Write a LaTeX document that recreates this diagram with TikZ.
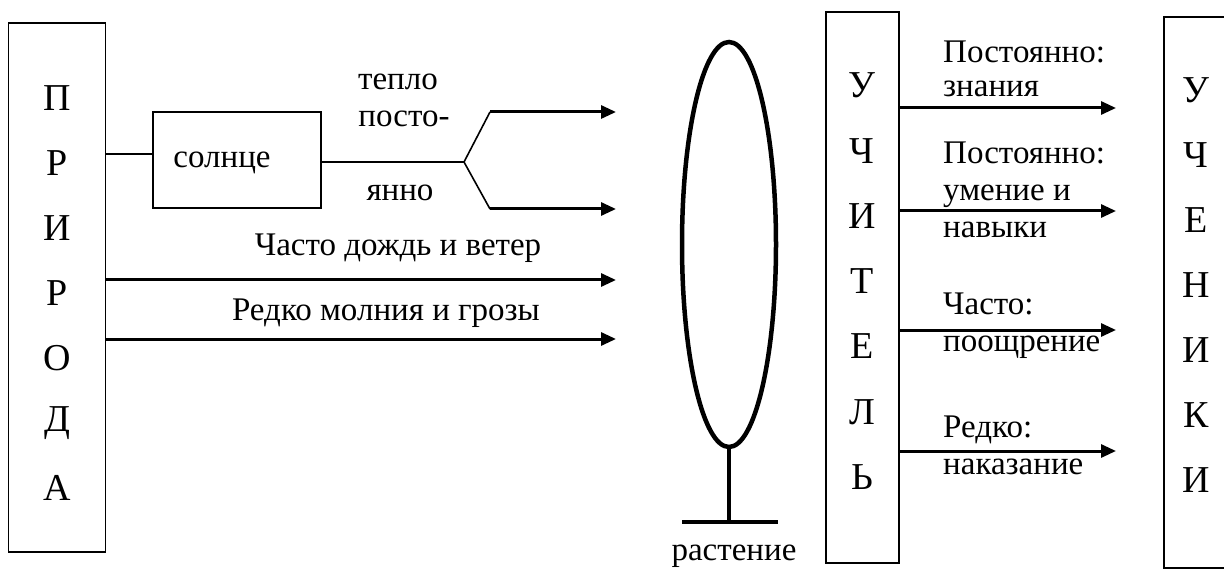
\documentclass[tikz,border=0pt]{standalone}
\usepackage{fontspec}
\setmainfont{Liberation Serif}
\usepackage{tikz}
\usetikzlibrary{calc,positioning,arrows,arrows.meta}

\begin{document}
\begin{tikzpicture}[x=1pt,y=-1pt,font=\fontsize{33}{36}\selectfont,
  box/.style={draw,line width=1.6pt,inner sep=0pt},
  lbl/.style={inner sep=0pt},
  letter/.style={inner sep=0pt,font=\fontsize{38}{40}\selectfont},
  note/.style={inner sep=0pt,anchor=north west,align=left},
  arr/.style={line width=3pt,-{Triangle[length=15pt,width=13pt]}},
  thin/.style={line width=1.6pt},
  plant/.style={line width=4.5pt}]
\useasboundingbox (0,0) rectangle (1224,572);
%\draw[help lines] (0,0) grid[step=50] (1224,572);
% nature
\node[box,minimum width=97pt,minimum height=529pt] (priroda) at (57,287.5) {};
\foreach \l [count=\i] in {П,Р,И,Р,О,Д,А}{\node[letter] (p\i) at (57,33+65*\i) {\l};}
\node[box,minimum width=168pt,minimum height=96pt] (sun) at (237,160) {};
\node[lbl] (suntext) at (222,163) {солнце};
\draw[thin] (priroda.east |- 0,154) -- (sun.west |- 0,154);
\coordinate (fork) at (464,162);
\coordinate (fu) at (490,112);
\coordinate (fd) at (490,209);
\coordinate (e1) at (616,112);
\coordinate (e2) at (616,209);
\coordinate (e3) at (616,280);
\coordinate (e4) at (616,339);
\draw[thin] (sun.east |- fork) -- (fork);
\draw[thin] (fd) -- (fork) -- (fu);
\draw[arr] (fu) -- (e1);
\draw[arr] (fd) -- (e2);
\node[lbl,anchor=base] (heat) at (398,90) {тепло};
\node[lbl,anchor=base] (const1) at (404,127) {посто-};
\node[lbl,anchor=base] (const2) at (400,201) {янно};
\node[lbl] (rain) at (398,248) {Часто дождь и ветер};
\node[lbl] (storm) at (386,313) {Редко молния и грозы};
\draw[arr] (priroda.east |- e3) -- (e3);
\draw[arr] (priroda.east |- e4) -- (e4);
% plant
\draw[plant] (729,244.5) ellipse [x radius=47,y radius=202.5];
\draw[plant] (729,447) -- (729,522);
\draw[plant] (682,522) -- (778,522);
\node[lbl] (rast) at (734,556) {растение};
% teacher
\node[box,minimum width=73pt,minimum height=551pt] (teacher) at (862.5,287.5) {};
\foreach \l [count=\i] in {У,Ч,И,Т,Е,Л,Ь}{\node[letter] (t\i) at (862,20+65.3*\i) {\l};}
% pupils
\node[box,minimum width=62pt,minimum height=551pt] (pupils) at (1195,292.5) {};
\foreach \l [count=\i] in {У,Ч,Е,Н,И,К,И}{\node[letter] (u\i) at (1196,25+65*\i) {\l};}
\coordinate (k1) at (1116,108);
\coordinate (k2) at (1116,211);
\coordinate (k3) at (1116,330);
\coordinate (k4) at (1116,451);
\foreach \k in {1,2,3,4}{\draw[arr] (teacher.east |- k\k) -- (k\k);}
\node[note,font=\fontsize{33}{34}\selectfont] (know) at (943,41) {Постоянно:\\знания};
\node[note,font=\fontsize{33}{37}\selectfont] (skill) at (943,142) {Постоянно:\\умение и\\навыки};
\node[note,font=\fontsize{33}{37}\selectfont] (praise) at (943,293) {Часто:\\поощрение};
\node[note,font=\fontsize{33}{37}\selectfont] (punish) at (943,416) {Редко:\\наказание};
\end{tikzpicture}
\end{document}
